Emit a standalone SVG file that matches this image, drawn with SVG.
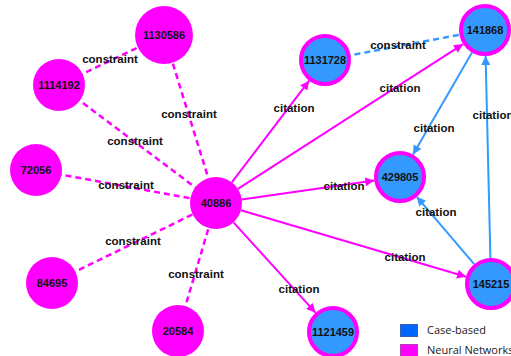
<svg xmlns="http://www.w3.org/2000/svg" width="511" height="356" viewBox="0 0 511 356">
<defs>
<marker id="am" viewBox="0 0 10 10" refX="10" refY="5" markerWidth="11" markerHeight="9" markerUnits="userSpaceOnUse" orient="auto"><path d="M0,0 L10,5 L0,10 z" fill="#ff00ff"/></marker>
<marker id="ab" viewBox="0 0 10 10" refX="10" refY="5" markerWidth="11" markerHeight="9" markerUnits="userSpaceOnUse" orient="auto"><path d="M0,0 L10,5 L0,10 z" fill="#3399ff"/></marker>
</defs>
<style>
.cm{stroke:#ff00ff;stroke-width:2.5;stroke-dasharray:6,4;fill:none}
.cb{stroke:#3399ff;stroke-width:2.5;stroke-dasharray:6,4;fill:none}
.em{stroke:#ff00ff;stroke-width:2;fill:none;marker-end:url(#am)}
.eb{stroke:#3399ff;stroke-width:2;fill:none;marker-end:url(#ab)}
.nm{fill:#ff00ff}
.nb{fill:#3399ff;stroke:#ff00ff;stroke-width:4}
.t{font-family:"Liberation Sans",Arial,sans-serif;font-weight:bold;font-size:11px;fill:#111;text-anchor:middle}
.el{font-family:"Liberation Sans",Arial,sans-serif;font-weight:bold;font-size:11.5px;fill:#111;text-anchor:middle}
.lg{font-family:"Open Sans","Liberation Sans",sans-serif;font-size:11px;fill:#222}
</style>
<rect width="511" height="356" fill="#fff"/>
<g id="connectors">
<line class="cm" x1="59" y1="85" x2="164" y2="35"/>
<line class="cm" x1="59" y1="85" x2="216" y2="203"/>
<line class="cm" x1="164" y1="35" x2="216" y2="203"/>
<line class="cm" x1="36" y1="170" x2="216" y2="203"/>
<line class="cm" x1="52" y1="283" x2="216" y2="203"/>
<line class="cm" x1="178" y1="331" x2="216" y2="203"/>
<line class="cb" x1="325" y1="60" x2="485" y2="30"/>
<line class="em" x1="231.8" y1="182.3" x2="309.2" y2="80.7"/>
<line class="em" x1="237.9" y1="188.9" x2="463.1" y2="44.1"/>
<line class="em" x1="241.7" y1="199.4" x2="374.3" y2="180.6"/>
<line class="em" x1="240.9" y1="210.3" x2="466.1" y2="276.7"/>
<line class="em" x1="233.5" y1="222.3" x2="315.5" y2="312.7"/>
<line class="eb" x1="472" y1="52.5" x2="413" y2="154.5"/>
<line class="eb" x1="474.2" y1="264.2" x2="416.8" y2="196.8"/>
<line class="eb" x1="490.4" y1="258" x2="485.6" y2="56"/>
<text class="el" x="110" y="63">constraint</text>
<text class="el" x="189" y="118">constraint</text>
<text class="el" x="135" y="145">constraint</text>
<text class="el" x="126" y="189">constraint</text>
<text class="el" x="133" y="245">constraint</text>
<text class="el" x="196" y="278">constraint</text>
<text class="el" x="398" y="49">constraint</text>
<text class="el" x="294" y="112">citation</text>
<text class="el" x="400" y="92">citation</text>
<text class="el" x="434" y="132">citation</text>
<text class="el" x="493" y="119">citation</text>
<text class="el" x="344" y="190">citation</text>
<text class="el" x="436" y="216">citation</text>
<text class="el" x="405" y="261">citation</text>
<text class="el" x="299" y="293">citation</text>
</g>
<g id="n1130586"><circle class="nm" cx="164" cy="35" r="29"/><text class="t" x="164" y="39">1130586</text></g>
<g id="n1114192"><circle class="nm" cx="59" cy="85" r="26"/><text class="t" x="59" y="89">1114192</text></g>
<g id="n72056"><circle class="nm" cx="36" cy="170" r="26"/><text class="t" x="36" y="174">72056</text></g>
<g id="n40886"><circle class="nm" cx="216" cy="203" r="26"/><text class="t" x="216" y="207">40886</text></g>
<g id="n84695"><circle class="nm" cx="52" cy="283" r="26"/><text class="t" x="52" y="287">84695</text></g>
<g id="n20584"><circle class="nm" cx="178" cy="331" r="26"/><text class="t" x="178" y="335">20584</text></g>
<g id="n1131728"><circle class="nb" cx="325" cy="60" r="24"/><text class="t" x="325" y="64">1131728</text></g>
<g id="n141868"><circle class="nb" cx="485" cy="30" r="24"/><text class="t" x="485" y="34">141868</text></g>
<g id="n429805"><circle class="nb" cx="400" cy="177" r="24"/><text class="t" x="400" y="181">429805</text></g>
<g id="n145215"><circle class="nb" cx="491" cy="284" r="24"/><text class="t" x="491" y="288">145215</text></g>
<g id="n1121459"><circle class="nb" cx="333" cy="332" r="24"/><text class="t" x="333" y="336">1121459</text></g>
<g id="legend">
<rect x="400.5" y="324.5" width="17" height="12" fill="#0066ff" stroke="#3a5fb0" stroke-width="1"/>
<text class="lg" x="427" y="334">Case-based</text>
<rect x="400.5" y="344.5" width="17" height="12" fill="#ff00ff" stroke="#b040b0" stroke-width="1"/>
<text class="lg" x="427" y="354">Neural Networks</text>
</g>
</svg>
